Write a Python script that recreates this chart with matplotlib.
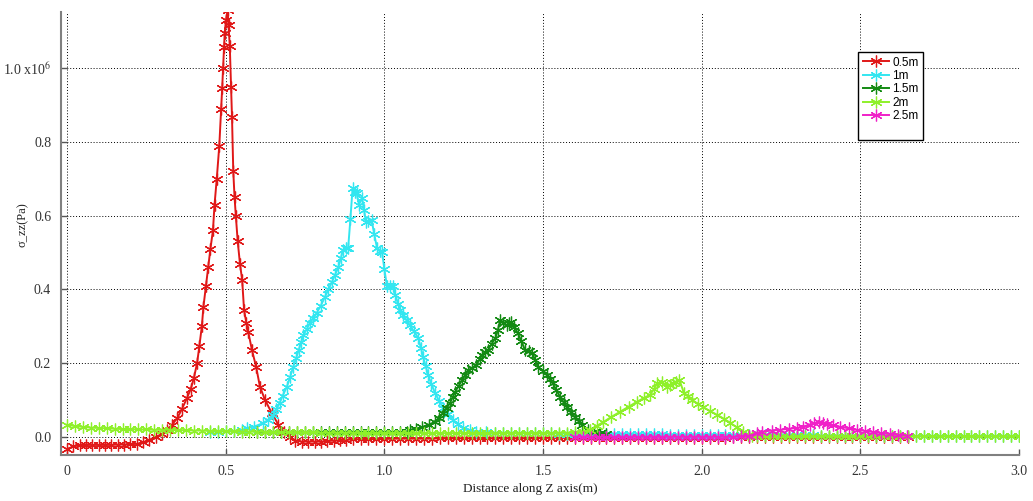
import numpy as np
import matplotlib
matplotlib.use("Agg")
from matplotlib import pyplot as plt

# sigma_zz values in units of 1e6 Pa
red_x = [0.00, 0.02, 0.04, 0.06, 0.08, 0.10, 0.12, 0.14, 0.16, 0.18, 0.20, 0.22, 0.24, 0.26,
         0.28, 0.30, 0.315, 0.33, 0.347, 0.362, 0.378, 0.39, 0.40, 0.41, 0.417, 0.425, 0.43,
         0.438, 0.445, 0.452, 0.46, 0.465, 0.472, 0.48, 0.486, 0.489, 0.492, 0.495, 0.497,
         0.501, 0.506, 0.509, 0.513, 0.517, 0.52, 0.524, 0.528, 0.532, 0.538, 0.545, 0.552,
         0.558, 0.565, 0.571, 0.583, 0.596, 0.608, 0.624, 0.645, 0.666, 0.685, 0.703, 0.72,
         0.74, 0.76, 0.78, 0.80, 0.82, 0.84, 0.86, 0.88,
         0.90, 0.925, 0.95, 0.975, 1.00, 1.025, 1.05, 1.075, 1.10, 1.125, 1.15, 1.175,
         1.20, 1.225, 1.25, 1.275, 1.30, 1.325, 1.35, 1.375, 1.40, 1.425, 1.45, 1.475,
         1.50, 1.525, 1.55, 1.575, 1.60, 1.625, 1.65, 1.675, 1.70, 1.725, 1.75, 1.775,
         1.80, 1.825, 1.85, 1.875, 1.90, 1.925, 1.95, 1.975, 2.00, 2.025, 2.05, 2.075,
         2.10, 2.125, 2.15, 2.175, 2.20, 2.225, 2.25, 2.275, 2.30, 2.325, 2.35, 2.375,
         2.40, 2.425, 2.45, 2.475, 2.50, 2.525, 2.55, 2.575, 2.60, 2.625, 2.65]
red_y = [-0.033, -0.026, -0.023, -0.022, -0.022, -0.022, -0.022, -0.022, -0.021, -0.021,
         -0.020, -0.019, -0.015, -0.008, 0.000, 0.008, 0.019, 0.032, 0.050, 0.075, 0.105,
         0.130, 0.160, 0.200, 0.245, 0.300, 0.353, 0.410, 0.460, 0.510, 0.560, 0.630, 0.700,
         0.790, 0.890, 0.945, 1.000, 1.057, 1.095, 1.130, 1.157, 1.117, 1.060, 0.950, 0.867,
         0.720, 0.650, 0.600, 0.530, 0.470, 0.425, 0.344, 0.310, 0.285, 0.235, 0.190, 0.136,
         0.100, 0.065, 0.033, 0.012, 0.000, -0.010,
         -0.013, -0.013, -0.013, -0.013, -0.012, -0.010, -0.009, -0.008,
         -0.007, -0.006, -0.006, -0.006, -0.006, -0.005, -0.005, -0.005, -0.005, -0.005, -0.005, -0.004,
         -0.004, -0.004, -0.004, -0.004, -0.004, -0.004, -0.004, -0.004, -0.004, -0.004, -0.004, -0.004,
         -0.003, -0.003, -0.003, -0.003, -0.003, -0.003, -0.003, -0.003, -0.003, -0.003, -0.003, -0.003,
         -0.002, -0.002, -0.002, -0.002, -0.002, -0.002, -0.002, -0.002, -0.002, -0.002, -0.002, -0.002,
         -0.001, -0.001, -0.001, -0.001, -0.001, -0.001, -0.001, -0.001, -0.001, -0.001, -0.001, -0.001,
         0.000, 0.000, 0.000, 0.000, 0.000, 0.000, 0.000, 0.000, 0.000, 0.000, 0.000]

cyan_x = [0.45, 0.475, 0.50, 0.525, 0.55, 0.567, 0.59, 0.618, 0.635, 0.65, 0.66, 0.67, 0.68,
          0.693, 0.703, 0.713, 0.722, 0.73, 0.738, 0.745, 0.755, 0.766, 0.776, 0.787, 0.80,
          0.813, 0.824, 0.835, 0.845, 0.855, 0.863, 0.87, 0.878, 0.886, 0.893, 0.90, 0.907,
          0.913, 0.92, 0.93, 0.936, 0.942, 0.95, 0.96, 0.968, 0.977, 0.985, 0.993, 1.00,
          1.008, 1.018, 1.027, 1.035, 1.043, 1.05, 1.06, 1.07, 1.08, 1.093, 1.107, 1.115,
          1.122, 1.13, 1.138, 1.148, 1.16, 1.172, 1.185, 1.20, 1.216, 1.232, 1.248, 1.27,
          1.29, 1.32,
          1.35, 1.375, 1.40, 1.425, 1.45, 1.475, 1.50, 1.525, 1.55, 1.575, 1.60, 1.625,
          1.65, 1.675, 1.70, 1.725, 1.75, 1.775, 1.80, 1.825, 1.85, 1.875, 1.90, 1.925,
          1.95, 1.975, 2.00, 2.025, 2.05, 2.075, 2.10, 2.125, 2.15, 2.175, 2.20, 2.225,
          2.25, 2.275, 2.30, 2.325, 2.35, 2.375, 2.40, 2.425, 2.45, 2.475, 2.50, 2.525,
          2.55, 2.575, 2.60, 2.625, 2.65, 2.675, 2.70, 2.725, 2.75, 2.775, 2.80, 2.825,
          2.85, 2.875, 2.90, 2.925, 2.95, 2.975, 3.00]
cyan_y = [0.014, 0.014, 0.015, 0.016, 0.018, 0.024, 0.028, 0.037, 0.047, 0.060, 0.075, 0.092,
          0.112, 0.136, 0.162, 0.190, 0.213, 0.235, 0.256, 0.276, 0.292, 0.309, 0.322, 0.336,
          0.356, 0.380, 0.400, 0.420, 0.440, 0.460, 0.485, 0.507, 0.512, 0.512, 0.590, 0.675,
          0.665, 0.660, 0.630, 0.648, 0.615, 0.583, 0.585, 0.588, 0.550, 0.512, 0.505, 0.500,
          0.455, 0.410, 0.410, 0.410, 0.385, 0.360, 0.345, 0.330, 0.316, 0.303, 0.286, 0.268,
          0.242, 0.217, 0.192, 0.168, 0.143, 0.119, 0.098, 0.079, 0.062, 0.046, 0.034, 0.024,
          0.018, 0.014, 0.012,
          0.011, 0.011, 0.011, 0.010, 0.010, 0.010, 0.010, 0.010, 0.009, 0.009, 0.009, 0.009,
          0.008, 0.008, 0.008, 0.008, 0.008, 0.007, 0.007, 0.007, 0.007, 0.007, 0.006, 0.006,
          0.006, 0.006, 0.006, 0.006, 0.005, 0.005, 0.005, 0.005, 0.005, 0.005, 0.004, 0.004,
          0.004, 0.004, 0.004, 0.004, 0.004, 0.003, 0.003, 0.003, 0.003, 0.003, 0.003, 0.003,
          0.003, 0.003, 0.002, 0.002, 0.002, 0.002, 0.002, 0.002, 0.002, 0.002, 0.002, 0.002,
          0.002, 0.002, 0.002, 0.002, 0.002, 0.002, 0.002]

dkgreen_x = [0.60, 0.625, 0.65, 0.675, 0.70, 0.725, 0.75, 0.775, 0.80, 0.825, 0.85, 0.875,
             0.90, 0.925, 0.95, 0.975, 1.00, 1.025, 1.05, 1.07, 1.08, 1.10, 1.12, 1.14,
             1.16, 1.172, 1.185, 1.196, 1.207, 1.215, 1.223, 1.234, 1.245, 1.255, 1.264,
             1.277, 1.29, 1.30, 1.308, 1.318, 1.327, 1.338, 1.35, 1.358, 1.365, 1.375, 1.386,
             1.393, 1.40, 1.41, 1.42, 1.432, 1.443, 1.455, 1.465, 1.475, 1.484, 1.50, 1.513,
             1.522, 1.53, 1.542, 1.554, 1.565, 1.576, 1.588, 1.60, 1.612, 1.623, 1.642, 1.66,
             1.68, 1.70]
dkgreen_y = [0.012, 0.012, 0.012, 0.012, 0.012, 0.012, 0.012, 0.012, 0.012, 0.012, 0.012,
             0.012, 0.012, 0.012, 0.012, 0.012, 0.012, 0.012, 0.013, 0.014, 0.019, 0.022,
             0.027, 0.033, 0.041, 0.052, 0.065, 0.078, 0.092, 0.107, 0.122, 0.138, 0.154,
             0.167, 0.180, 0.188, 0.195, 0.210, 0.222, 0.229, 0.236, 0.252, 0.268, 0.290,
             0.317, 0.310, 0.303, 0.308, 0.312, 0.297, 0.282, 0.259, 0.236, 0.232, 0.228,
             0.209, 0.190, 0.179, 0.168, 0.157, 0.146, 0.127, 0.108, 0.094, 0.081, 0.067,
             0.054, 0.043, 0.033, 0.019, 0.013, 0.010, 0.009]

ltgreen_x = [0.00, 0.025, 0.05, 0.075, 0.10, 0.125, 0.15, 0.175, 0.20, 0.225, 0.25, 0.275,
             0.30, 0.325, 0.35, 0.375, 0.40, 0.425, 0.45, 0.475, 0.50, 0.525, 0.55, 0.575,
             0.60, 0.625, 0.65, 0.675, 0.70, 0.725, 0.75, 0.775, 0.80, 0.825, 0.85, 0.875,
             0.90, 0.925, 0.95, 0.975, 1.00, 1.025, 1.05, 1.075, 1.10, 1.125, 1.15, 1.175,
             1.20, 1.225, 1.25, 1.275, 1.30, 1.325, 1.35, 1.375, 1.40, 1.425, 1.45, 1.475,
             1.50, 1.525, 1.55, 1.575, 1.60, 1.625, 1.648, 1.67, 1.69, 1.715, 1.743, 1.77,
             1.796, 1.817, 1.837, 1.85, 1.86, 1.875, 1.89, 1.90, 1.91, 1.92, 1.93, 1.944,
             1.957, 1.97, 1.987, 2.004, 2.026, 2.048, 2.07, 2.09, 2.11, 2.13, 2.145, 2.16,
             2.175, 2.20, 2.225, 2.25, 2.275, 2.30, 2.325, 2.35, 2.375, 2.40, 2.425, 2.45,
             2.475, 2.50, 2.525, 2.55, 2.575, 2.60, 2.625, 2.65, 2.675, 2.70, 2.725, 2.75,
             2.775, 2.80, 2.825, 2.85, 2.875, 2.90, 2.925, 2.95, 2.975, 3.00]
ltgreen_y = [0.033, 0.029, 0.027, 0.025, 0.024, 0.023, 0.022, 0.021, 0.021, 0.020, 0.020,
             0.019, 0.019, 0.019, 0.018, 0.018, 0.017, 0.017, 0.016, 0.016, 0.015, 0.015,
             0.014, 0.014, 0.014, 0.013, 0.013, 0.013, 0.012, 0.012, 0.012, 0.012, 0.011,
             0.011, 0.011, 0.011, 0.011, 0.010, 0.010, 0.010, 0.010, 0.010, 0.010, 0.010,
             0.010, 0.010, 0.010, 0.010, 0.010, 0.010, 0.010, 0.010, 0.010, 0.010, 0.010,
             0.010, 0.010, 0.010, 0.010, 0.010, 0.010, 0.010, 0.011, 0.011, 0.012, 0.014,
             0.019, 0.030, 0.040, 0.054, 0.068, 0.082, 0.095, 0.105, 0.114, 0.130, 0.146,
             0.149, 0.136, 0.141, 0.146, 0.150, 0.154, 0.119, 0.110, 0.100, 0.090, 0.081,
             0.070, 0.060, 0.049, 0.038, 0.026, 0.014, 0.006, 0.002, 0.001, 0.001, 0.001,
             0.001, 0.001, 0.001, 0.001, 0.001, 0.001, 0.001, 0.001, 0.001, 0.001, 0.001,
             0.001, 0.001, 0.001, 0.001, 0.001, 0.001, 0.001, 0.001, 0.001, 0.001, 0.001,
             0.001, 0.001, 0.001, 0.001, 0.001, 0.001, 0.001, 0.001, 0.001]

magenta_x = [1.60, 1.625, 1.65, 1.675, 1.70, 1.725, 1.75, 1.775, 1.80, 1.825, 1.85, 1.875,
             1.90, 1.925, 1.95, 1.975, 2.00, 2.025, 2.05, 2.075, 2.10, 2.125, 2.15, 2.175,
             2.19, 2.22, 2.247, 2.275, 2.30, 2.32, 2.34, 2.355, 2.37, 2.383, 2.395, 2.415,
             2.436, 2.465, 2.49, 2.515, 2.54, 2.565, 2.594, 2.62, 2.647]
magenta_y = [0.000, 0.000, 0.000, 0.000, 0.000, 0.000, 0.000, 0.000, 0.000, 0.000, 0.000,
             0.000, 0.000, 0.000, 0.000, 0.000, 0.000, 0.000, 0.000, 0.000, 0.000, 0.001,
             0.003, 0.010, 0.014, 0.017, 0.019, 0.022, 0.024, 0.028, 0.033, 0.037, 0.041,
             0.038, 0.035, 0.031, 0.027, 0.023, 0.019, 0.016, 0.013, 0.010, 0.008, 0.005,
             0.003]

labels = ["0.5m", "1m", "1.5m", "2m", "2.5m"]
colors = ["#e01818", "#33e6f0", "#138a13", "#8ef02a", "#f020c8"]

x_ticks = [0, 0.5, 1.0, 1.5, 2.0, 2.5, 3.0]
x_ticklabels = ["0", "0.5", "1.0", "1.5", "2.0", "2.5", "3.0"]
y_ticks = [0.0, 0.2, 0.4, 0.6, 0.8, 1.0]
y_ticklabels = ["0.0", "0.2", "0.4", "0.6", "0.8", "1.0 x10$^{6}$"]

plt.rcParams["font.family"] = ["Liberation Serif", "DejaVu Serif"]
plt.rcParams["mathtext.fontset"] = "stix"

fig = plt.figure(figsize=(10.33, 5.01), dpi=100)
ax = fig.add_axes([0.059, 0.092, 0.9275, 0.884])

series = [(red_x, red_y), (cyan_x, cyan_y), (dkgreen_x, dkgreen_y),
          (ltgreen_x, ltgreen_y), (magenta_x, magenta_y)]
for (xs, ys), lab, col in zip(series, labels, colors):
    ax.plot(xs, ys, color=col, linewidth=1.4, marker=(6, 2, 0), markersize=8.5,
            markeredgewidth=0.9, label=lab)
# empty legend row, the reference legend box has extra room at the bottom
ax.plot([], [], color="none", label=" ")

ax.set_xlim(-0.019, 3.0)
ax.set_ylim(-0.049, 1.152)
ax.set_xticks(x_ticks)
ax.set_xticklabels(x_ticklabels)
ax.set_yticks(y_ticks)
ax.set_yticklabels(y_ticklabels)
ax.tick_params(direction="in", length=4, width=1, color="#555555",
               labelsize=10, labelcolor="#333333", pad=7)

ax.grid(True, color="black", linestyle=(0, (1, 2)), linewidth=0.7)
for side in ["top", "right"]:
    ax.spines[side].set_visible(False)
for side in ["left", "bottom"]:
    ax.spines[side].set_color("#808080")
    ax.spines[side].set_linewidth(1.5)

ax.set_xlabel("Distance along Z axis(m)", fontsize=9.5, color="#222222")
ax.xaxis.set_label_coords(0.49, -0.063)
ax.set_ylabel("σ_zz(Pa)", fontsize=9, color="#222222")
ax.yaxis.set_label_coords(-0.034, 0.52)

leg = ax.legend(loc="upper left", bbox_to_anchor=(0.832, 0.91), borderaxespad=0,
                fancybox=False, edgecolor="black", framealpha=1,
                prop={"family": "Liberation Sans", "size": 8.5},
                handlelength=2.2, handletextpad=0.3, labelspacing=0.12, borderpad=0.4)
leg.get_frame().set_linewidth(1.0)

plt.savefig("out.png", dpi=100)
